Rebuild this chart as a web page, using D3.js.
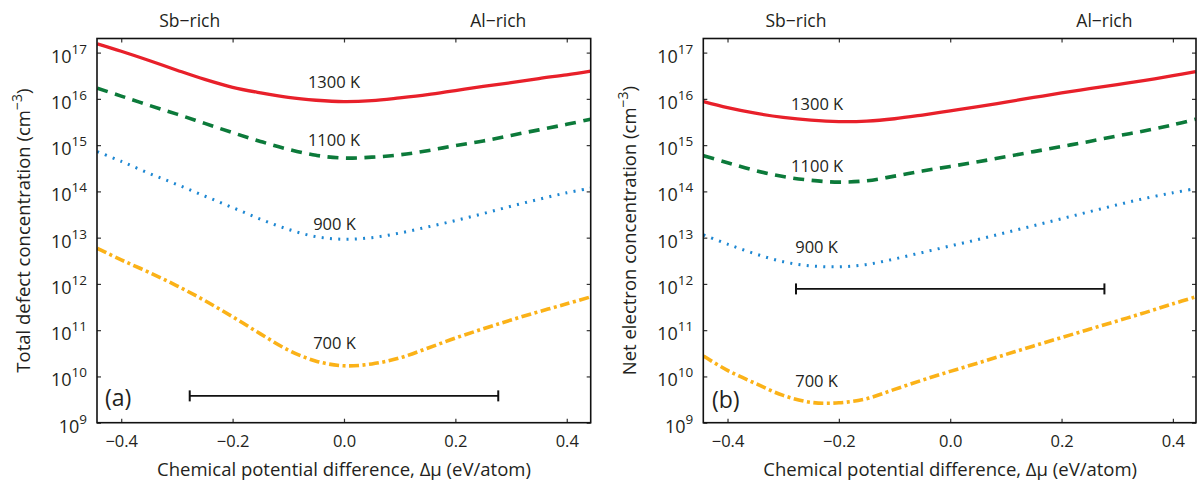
<!DOCTYPE html>
<html>
<head>
<meta charset="utf-8">
<script src="https://cdn.jsdelivr.net/npm/d3@7"></script>
<style>
  body { margin: 0; background: #fff; }
  svg { display: block; }
  text { font-family: "Open Sans", "Noto Sans", sans-serif; fill: #231f20; }
</style>
</head>
<body>
<svg id="chart" width="1198" height="483"></svg>
<script>
// ---- Data (log10 of concentration in cm^-3) ----
const xA = [-0.443, -0.4, -0.35, -0.3, -0.25, -0.2, -0.15, -0.1, -0.05, 0.0,
            0.05, 0.1, 0.15, 0.2, 0.25, 0.3, 0.35, 0.4, 0.443];
const xB = [-0.443, -0.4, -0.35, -0.3, -0.25, -0.2, -0.15, -0.1, -0.05, 0.0,
            0.05, 0.1, 0.15, 0.2, 0.25, 0.3, 0.35, 0.4, 0.441];

const temps = ["1300 K", "1100 K", "900 K", "700 K"];

// Panel (a): total defect concentration
const a1300 = [17.19, 17.03, 16.83, 16.62, 16.42, 16.25, 16.13, 16.03, 15.97, 15.94,
               15.96, 16.02, 16.09, 16.18, 16.27, 16.35, 16.44, 16.52, 16.60];
const a1100 = [16.23, 16.06, 15.86, 15.67, 15.47, 15.27, 15.08, 14.91, 14.78, 14.72,
               14.74, 14.79, 14.88, 14.99, 15.09, 15.21, 15.33, 15.45, 15.56];
const a900  = [14.86, 14.65, 14.39, 14.15, 13.90, 13.65, 13.40, 13.18, 13.02, 12.965,
               13.00, 13.10, 13.23, 13.37, 13.52, 13.68, 13.83, 13.97, 14.07];
const a700  = [12.77, 12.52, 12.25, 11.96, 11.64, 11.29, 10.92, 10.57, 10.33, 10.23,
               10.27, 10.40, 10.61, 10.83, 11.03, 11.22, 11.40, 11.57, 11.72];

// Panel (b): net electron concentration
const b1300 = [15.94, 15.81, 15.69, 15.60, 15.54, 15.51, 15.52, 15.57, 15.65, 15.74,
               15.83, 15.93, 16.03, 16.13, 16.22, 16.31, 16.40, 16.50, 16.59];
const b1100 = [14.77, 14.62, 14.45, 14.32, 14.24, 14.20, 14.23, 14.33, 14.44, 14.54,
               14.64, 14.75, 14.86, 14.97, 15.08, 15.20, 15.31, 15.44, 15.56];
const b900  = [13.06, 12.86, 12.65, 12.48, 12.39, 12.37, 12.42, 12.54, 12.68, 12.82,
               12.96, 13.11, 13.26, 13.41, 13.56, 13.71, 13.85, 13.97, 14.06];
const b700  = [10.44, 10.13,  9.85,  9.59,  9.44,  9.43,  9.52,  9.72,  9.92, 10.11,
               10.29, 10.475, 10.66, 10.84, 11.02, 11.20, 11.38, 11.57, 11.72];

// Label anchor points [x, log10 y] for temperature labels
const labelsA = [[-0.018, 16.24], [-0.018, 14.98], [-0.017, 13.17], [-0.017, 10.59]];
const labelsB = [[-0.239, 15.75], [-0.239, 14.42], [-0.24, 12.67], [-0.24, 9.77]];

// Scale bar: x range and y value
const barX = [-0.277, 0.277];
const barYA = 3.8e9;
const barYB = 7.8e11;

const xTicks = [-0.4, -0.2, 0.0, 0.2, 0.4];
const yTicks = [1e9, 1e10, 1e11, 1e12, 1e13, 1e14, 1e15, 1e16, 1e17];
const topLabels = [["Sb\u2212rich", -0.277], ["Al\u2212rich", 0.277]];

// ---- Styles ----
const styles = [
  { color: "#e8202a", width: 3.3, dash: null },
  { color: "#0c7a3a", width: 3.6, dash: "11,7.5" },
  { color: "#1d87d2", width: 3.0, dash: "2,6.3" },
  { color: "#fbb218", width: 3.6, dash: "10,3.5,3,3.5" }
];

const svg = d3.select("#chart");

function panel(cfg) {
  const { left, right, top, bottom, xDom, xs, series, labels, barY, yLabel, tag } = cfg;
  const x = d3.scaleLinear().domain(xDom).range([left, right]);
  const y = d3.scaleLog().domain([1e9, Math.pow(10, 17.305)]).range([bottom, top]);
  const g = svg.append("g");

  const clipId = "clip" + tag;
  svg.append("clipPath").attr("id", clipId)
    .append("rect").attr("x", left).attr("y", top).attr("width", right - left).attr("height", bottom - top);

  const line = d3.line()
    .x(d => x(d[0]))
    .y(d => y(Math.pow(10, d[1])))
    .curve(d3.curveCatmullRom.alpha(0.5));

  series.forEach((vals, i) => {
    const pts = xs.map((xv, j) => [xv, vals[j]]);
    const p = g.append("path")
      .attr("clip-path", `url(#${clipId})`)
      .attr("d", line(pts))
      .attr("fill", "none")
      .attr("stroke", styles[i].color)
      .attr("stroke-width", styles[i].width);
    if (styles[i].dash) p.attr("stroke-dasharray", styles[i].dash);
  });

  // temperature labels
  labels.forEach((l, i) => {
    g.append("text")
      .attr("x", x(l[0])).attr("y", y(Math.pow(10, l[1])))
      .attr("text-anchor", "middle")
      .attr("font-size", 16.5)
      .text(temps[i]);
  });

  // scale bar
  const by = y(barY);
  g.append("line").attr("x1", x(barX[0])).attr("x2", x(barX[1]))
    .attr("y1", by).attr("y2", by).attr("stroke", "#111").attr("stroke-width", 1.6);
  barX.forEach(bx => {
    g.append("line").attr("x1", x(bx)).attr("x2", x(bx))
      .attr("y1", by - 5.5).attr("y2", by + 5.5).attr("stroke", "#111").attr("stroke-width", 2);
  });

  // axes
  const ax = (sel) => sel.select(".domain").remove();
  g.append("g").attr("transform", `translate(0,${bottom})`)
    .call(d3.axisBottom(x).tickValues(xTicks).tickSize(-4).tickPadding(13).tickFormat(d3.format(".1f")))
    .call(ax)
    .call(s => s.selectAll("text").attr("font-size", 16.5).attr("fill", "#231f20").attr("font-family", "Open Sans"));
  g.append("g").attr("transform", `translate(0,${top})`)
    .call(d3.axisTop(x).tickValues(xTicks).tickSize(-4).tickFormat(""))
    .call(ax);
  g.append("g").attr("transform", `translate(${right},0)`)
    .call(d3.axisRight(y).tickValues(yTicks).tickSize(-4).tickFormat(""))
    .call(ax);
  const yl = g.append("g").attr("transform", `translate(${left},0)`)
    .call(d3.axisLeft(y).tickValues(yTicks).tickSize(-4).tickPadding(10).tickFormat(""))
    .call(ax);
  yl.selectAll(".tick").each(function(d) {
    const t = d3.select(this).append("text")
      .attr("x", -10).attr("y", 9.5)
      .attr("text-anchor", "end")
      .attr("font-size", 18)
      .attr("fill", "#231f20");
    t.append("tspan").text("10");
    t.append("tspan").attr("dy", -9).attr("font-size", 13.5).text(Math.round(Math.log10(d)));
  });
  g.selectAll(".tick line").attr("stroke", "#333").attr("stroke-width", 1.2);

  // frame
  g.append("rect").attr("x", left).attr("y", top).attr("width", right - left).attr("height", bottom - top)
    .attr("fill", "none").attr("stroke", "#111").attr("stroke-width", 1.6);

  // top labels
  topLabels.forEach(t => {
    g.append("text").attr("x", x(t[1])).attr("y", 27).attr("text-anchor", "middle")
      .attr("font-size", 17.5).text(t[0]);
  });

  // x-axis title
  g.append("text").attr("x", x(0)).attr("y", 476).attr("text-anchor", "middle")
    .attr("font-size", 18.5).text("Chemical potential difference, \u0394\u03bc (eV/atom)");

  // y-axis title
  const ylab = g.append("text")
    .attr("transform", `translate(${cfg.yTitleX},${(top + bottom) / 2}) rotate(-90)`)
    .attr("text-anchor", "middle").attr("font-size", 18.5);
  ylab.append("tspan").text(yLabel + " (cm");
  ylab.append("tspan").attr("dy", -8).attr("font-size", 14).text("\u22123");
  ylab.append("tspan").attr("dy", 8).text(")");

  // panel tag
  g.append("text").attr("x", cfg.tagX).attr("y", cfg.tagY).attr("font-size", 23).text(`(${tag})`);
}

panel({
  left: 97, right: 590.7, top: 38.5, bottom: 422.7,
  xDom: [-0.4435, 0.443], xs: xA,
  series: [a1300, a1100, a900, a700], labels: labelsA,
  barY: barYA, yLabel: "Total defect concentration", tag: "a",
  yTitleX: 30, tagX: 105, tagY: 406
});
panel({
  left: 703.3, right: 1196, top: 38.5, bottom: 422.7,
  xDom: [-0.4435, 0.4415], xs: xB,
  series: [b1300, b1100, b900, b700], labels: labelsB,
  barY: barYB, yLabel: "Net electron concentration", tag: "b",
  yTitleX: 636, tagX: 712, tagY: 408
});
</script>
</body>
</html>
